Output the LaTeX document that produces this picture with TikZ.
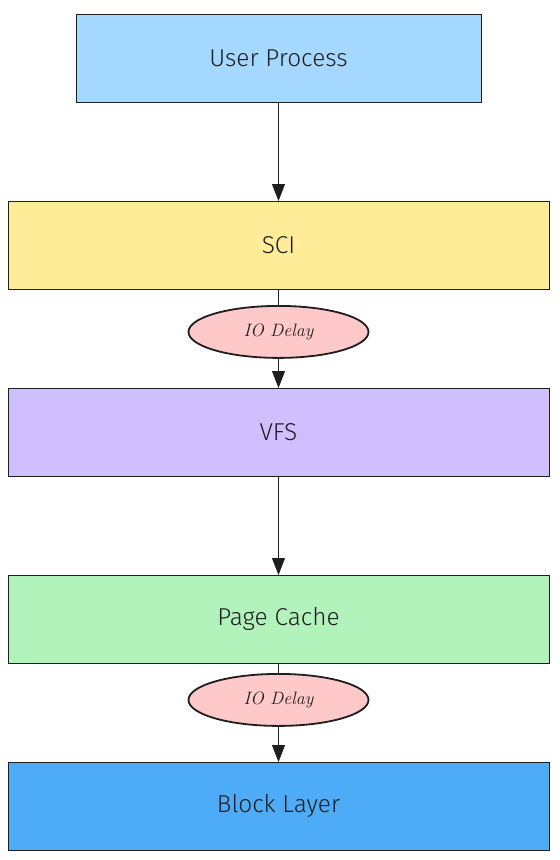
\documentclass[tikz,border=0pt]{standalone}
\usepackage{fontspec}
\setsansfont{Fira Sans Light}
\usetikzlibrary{positioning,shapes.geometric,arrows.meta}
\definecolor{userblue}{HTML}{A5D8FF}
\definecolor{sciyellow}{HTML}{FFEC99}
\definecolor{vfspurple}{HTML}{D0BFFF}
\definecolor{cachegreen}{HTML}{B2F2BB}
\definecolor{blockblue}{HTML}{4DABF7}
\definecolor{delaypink}{HTML}{FFC9C9}
\definecolor{ink}{HTML}{1E1E1E}
\begin{document}
\begin{tikzpicture}[x=1bp, y=1bp, node distance={99bp}, draw=ink,
		layer/.style = {draw=ink, line width=0.8bp, outer sep=0pt, rectangle, minimum width=541bp, minimum height=88bp, font=\sffamily\fontsize{24.5}{28}\selectfont, text=ink},
		delay/.style = {draw=ink, line width=1.8bp, ellipse, fill=delaypink, minimum width=180bp, minimum height=52bp, inner sep=0pt, font=\itshape\fontsize{18}{21}\selectfont, text=ink},
		link/.style = {draw=ink, line width=0.8bp, -{Triangle[width=13bp, length=17bp]}}]
		\useasboundingbox (0,0) rectangle (560,-860);
		\node[layer, fill=userblue, minimum width=405bp] (user) at (278.5,-58) {User Process};
		\node[layer, fill=sciyellow] (sci) [below=of user] {SCI};
		\node[delay] (delayA) [below=16bp of sci] {IO Delay};
		\node[layer, fill=vfspurple] (vfs) [below=of sci] {VFS};
		\node[layer, fill=cachegreen] (cache) [below=of vfs] {Page Cache};
		\node[delay] (delayB) [below=10bp of cache] {IO Delay};
		\node[layer, fill=blockblue] (block) [below=of cache] {Block Layer};
		
		\draw[link] (user) -- (sci);
		\draw[draw=ink, line width=0.8bp] (sci) -- (delayA);
		\draw[link] (delayA) -- (vfs);
		\draw[link] (vfs) -- (cache);
		\draw[draw=ink, line width=0.8bp] (cache) -- (delayB);
		\draw[link] (delayB) -- (block);
	\end{tikzpicture}
\end{document}
